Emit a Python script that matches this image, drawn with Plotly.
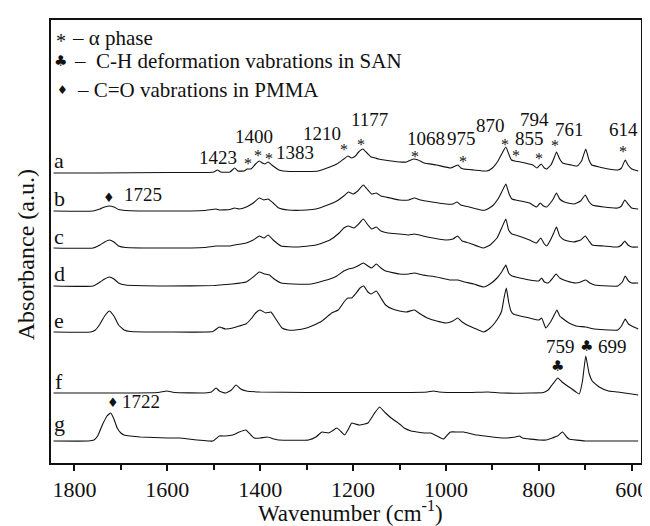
import plotly.graph_objects as go

# ---------------- data ----------------
labels = ["a", "b", "c", "d", "e", "f", "g"]

wn_a = [1845, 1750, 1600, 1520, 1500, 1492, 1485, 1465, 1455, 1448, 1435, 1428, 1420, 1410, 1402, 1395, 1390, 1383,
        1375, 1360, 1350, 1300, 1275, 1250, 1235, 1220, 1211, 1203, 1195, 1188, 1179, 1170, 1161, 1152, 1145, 1133,
        1100, 1085, 1070, 1060, 1047, 1020, 990, 980, 974, 968, 962, 940, 912, 900, 888, 880, 871, 864, 859, 852, 840,
        813, 804, 795, 788, 783, 774, 768, 762, 755, 749, 730, 717, 708, 699, 692, 686, 670, 650, 630, 622, 614, 608,
        600, 586]
ab_a = [0, 0, 0.5, 0.5, 1, 3, 1, 1, 5, 2, 2, 4, 4, 9, 12, 10, 9, 11,
        8, 3, 2, 1.5, 2, 6, 9, 14, 17, 15, 17, 21, 24, 20, 16, 15, 14, 13,
        11, 11, 14, 13, 10, 8, 5, 7, 8, 5, 4, 3, 2, 5, 12, 19, 26, 18, 13, 12, 11,
        8, 5, 9, 5, 4, 8, 14, 21, 14, 10, 8, 7, 12, 24, 13, 8, 6, 4, 3, 5, 13, 8,
        4, 2]

wn_b = [1845, 1760, 1745, 1735, 1725, 1715, 1705, 1690, 1600, 1520, 1495, 1488, 1465, 1455, 1445, 1430, 1415, 1402,
        1392, 1383, 1372, 1360, 1340, 1300, 1280, 1255, 1235, 1220, 1210, 1200, 1190, 1178, 1170, 1160, 1150, 1140,
        1120, 1100, 1080, 1068, 1055, 1030, 1000, 985, 976, 968, 950, 925, 915, 900, 888, 880, 871, 864, 858, 850,
        820, 805, 797, 790, 783, 775, 769, 762, 755, 745, 725, 710, 700, 693, 685, 660, 630, 622, 615, 608, 600, 586]
ab_b = [0, 0, 2, 4, 5, 4, 1.5, 0.5, 0, 0.5, 2, 1, 1.5, 3, 2, 4, 8, 13,
        11, 12, 8, 3, 1, 1, 2, 6, 10, 15, 19, 17, 20, 26, 22, 17, 18, 15,
        13, 11, 11, 13, 11, 9, 7, 7, 9, 6, 4, 1, 1, 5, 12, 19, 27, 17, 12, 11,
        8, 4, 8, 5, 4, 8, 12, 18, 12, 9, 7, 10, 16, 10, 6, 4, 3, 5, 11, 7, 3, 2]

wn_c = [1845, 1760, 1745, 1735, 1725, 1715, 1705, 1690, 1600, 1520, 1495, 1465, 1455, 1430, 1415, 1402, 1392, 1383,
        1372, 1355, 1320, 1280, 1250, 1230, 1220, 1210, 1198, 1188, 1178, 1168, 1160, 1150, 1140, 1125, 1100, 1080,
        1068, 1040, 1000, 985, 975, 965, 950, 920, 905, 890, 880, 871, 865, 858, 850, 820, 805, 796, 788, 783, 775,
        768, 762, 755, 745, 725, 710, 700, 692, 685, 660, 630, 622, 615, 608, 600, 586]
ab_c = [0, 0, 3, 6, 8, 6, 2, 0.5, 0, 0.5, 2, 2, 3, 5, 8, 12, 10, 13,
        8, 2, 1, 3, 8, 15, 20, 22, 20, 24, 29, 23, 19, 21, 17, 15, 14, 13,
        14, 11, 8, 9, 12, 7, 5, 0, 3, 10, 20, 29, 18, 14, 13, 8, 5, 10, 4, 2, 8,
        15, 21, 12, 8, 6, 8, 12, 7, 3, 2, 1, 3, 7, 3, 1, 1]

wn_d = [1845, 1760, 1745, 1735, 1725, 1715, 1705, 1690, 1600, 1500, 1488, 1460, 1430, 1415, 1402, 1390, 1380, 1370,
        1355, 1330, 1290, 1265, 1250, 1235, 1220, 1210, 1200, 1190, 1178, 1168, 1160, 1150, 1140, 1130, 1100, 1080,
        1068, 1050, 1020, 990, 975, 960, 940, 919, 905, 890, 880, 871, 865, 858, 850, 820, 800, 794, 788, 780, 770,
        763, 755, 740, 720, 710, 699, 690, 680, 650, 630, 620, 614, 607, 600, 586]
ab_d = [0, 0, 4, 7, 9, 7, 3, 1, 0, 0.5, 1, 2, 4, 9, 14, 12, 11, 7,
        3, 2, 2, 5, 7, 10, 15, 17, 18, 20, 23, 20, 18, 22, 18, 15, 12, 12,
        13, 11, 9, 6, 6, 4, 2, -1, 2, 8, 14, 21, 13, 10, 9, 6, 5, 8, 4, 3, 8,
        12, 8, 5, 3, 4, 6, 3, 1, 0, 0, 4, 10, 5, 3, 3]

wn_e = [1845, 1765, 1755, 1745, 1735, 1725, 1715, 1705, 1693, 1680, 1600, 1502, 1488, 1475, 1459, 1445, 1431, 1418,
        1410, 1400, 1388, 1377, 1365, 1353, 1340, 1324, 1300, 1289, 1267, 1246, 1232, 1218, 1211, 1203, 1195, 1185,
        1177, 1168, 1161, 1150, 1140, 1130, 1115, 1100, 1085, 1068, 1055, 1040, 1020, 1000, 985, 975, 965, 950, 940,
        919, 905, 895, 885, 880, 875, 870, 865, 860, 855, 840, 820, 800, 794, 788, 785, 775, 768, 761, 755, 750, 735,
        720, 699, 680, 650, 630, 622, 614, 607, 600, 586]
ab_e = [0, 0, 2, 8, 16, 21, 16, 7, 2, 0.5, 0, 0.5, 5, 3, 4, 6, 8, 14,
        19, 22, 19, 20, 12, 4, 2, 2, 4, 6, 11, 19, 22, 31, 34, 34, 38, 44,
        46, 40, 38, 41, 34, 27, 23, 21, 20, 22, 18, 14, 11, 9, 11, 14, 10, 6, 4,
        0, 4, 9, 16, 21, 34, 44, 30, 21, 18, 16, 14, 12, 14, 7, 4, 10, 16, 22, 16, 14, 9,
        6, 5, 3, 2, 2, 6, 13, 8, 6, 3]

wn_f = [1845, 1700, 1620, 1601, 1585, 1520, 1505, 1495, 1488, 1475, 1462, 1452, 1442, 1430, 1400, 1300, 1200, 1100,
        1040, 1027, 1015, 950, 909, 880, 820, 790, 780, 770, 759, 750, 735, 720, 713, 706, 699, 692, 685, 670, 650,
        630, 600, 586]
ab_f = [0, 0, 0.5, 2, 0.5, 0, 1, 5, 2, 0, 3, 8, 4, 2, 1, 0.5, 0.5, 0.5,
        1, 2, 1, 0.5, 1, 0, 0, 0.5, 3, 9, 15, 11, 6, 1, -1, 12, 37, 20, 12, 6, 2,
        1, -1, -2]

wn_g = [1845, 1770, 1758, 1750, 1740, 1730, 1722, 1715, 1708, 1700, 1693, 1680, 1658, 1600, 1574, 1502, 1488, 1475,
        1459, 1445, 1431, 1420, 1413, 1400, 1385, 1370, 1360, 1296, 1280, 1267, 1253, 1245, 1235, 1225, 1218, 1210,
        1203, 1195, 1186, 1175, 1168, 1155, 1143, 1130, 1118, 1100, 1090, 1075, 1062, 1045, 1033, 1015, 1005, 995,
        990, 975, 962, 934, 900, 877, 850, 842, 835, 800, 785, 760, 749, 740, 735, 700, 650, 586]
ab_g = [0, 0, 1, 5, 16, 25, 28, 22, 13, 8, 6, 5, 4, 3, 3, 0, 5, 5,
        6, 9, 11, 6, 3, 3, 4, 2, 1, 1, 4, 9, 8, 10, 13, 9, 6, 12,
        18, 17, 16, 17, 18, 27, 34, 28, 23, 17, 13, 10, 9, 8, 8, 4, 2, 7,
        9, 9, 9, 6, 4, 3, 4, 5, 3, 1, 1, 5, 9, 4, 2, 0, 0, 0]

wavenumbers = [wn_a, wn_b, wn_c, wn_d, wn_e, wn_f, wn_g]
absorbances = [ab_a, ab_b, ab_c, ab_d, ab_e, ab_f, ab_g]
offsets = [290, 252, 215, 177, 131, 70, 22]

x_ticks = [1800, 1600, 1400, 1200, 1000, 800, 600]
x_tick_text = ["1800", "1600", "1400", "1200", "1000", "800", "600"]

# peak labels of spectrum a: (text, wavenumber, y) and asterisk marks
a_peak_labels = [("1423", 1491, 306), ("1400", 1413, 327), ("1383", 1326, 311), ("1210", 1267, 330),
                 ("1177", 1164, 344), ("1068", 1044, 325), ("975", 966, 325), ("870", 905, 338),
                 ("855", 820, 325), ("794", 809, 344), ("761", 735, 334), ("614", 618, 334)]
a_asterisks = [(1427, 303), (1404, 311), (1381, 308), (1219, 317), (1182, 322), (1067, 310), (964, 305),
               (872, 322), (850, 311), (800, 308), (765, 321), (618, 315)]

SERIF = '"Liberation Serif", "Times New Roman", Times, serif'
SYM = '"DejaVu Sans", sans-serif'

fig = go.Figure()
for lab, wn, ab, off in zip(labels, wavenumbers, absorbances, offsets):
    fig.add_trace(go.Scatter(
        x=wn, y=[v + off for v in ab], mode="lines", name=lab,
        line=dict(color="#111111", width=1.1, shape="spline", smoothing=0.4),
        showlegend=False, hoverinfo="skip"))

ann = []


def add(x, y, text, size, xanchor="center", xref="x", yref="y", family=SERIF, **kw):
    ann.append(dict(x=x, y=y, xref=xref, yref=yref, text=text, showarrow=False,
                    xanchor=xanchor, yanchor="middle",
                    font=dict(family=family, size=size, color="#111111"), **kw))


# spectrum letters
letter_y = [303, 265, 227, 190, 143, 82, 40]
for lab, ly in zip(labels, letter_y):
    add(1833, ly, lab, 22)

for t, x, y in a_peak_labels:
    add(x, y, t, 19)
for x, y in a_asterisks:
    add(x, y - 3, "*", 16)

# C=O and C-H marks
add(1725, 266, "♦", 13, family=SYM)
add(1652, 269, "1725", 19)
add(1718, 61, "♦", 13, family=SYM)
add(1656, 62, "1722", 19)
add(754, 117, "759", 19)
add(760, 97, "♣", 15, family=SYM)
add(697, 117, "♣", 15, family=SYM)
add(642, 117, "699", 19)


# legend lines (paper coordinates)
def px(x):
    return (x - 43) / 597


def py(y):
    return (455 - y) / 443


add(px(53), py(33), "*", 20, xref="paper", yref="paper")
add(px(62), py(30), "– α phase", 21, xanchor="left", xref="paper", yref="paper")
add(px(53), py(53), "♣", 15, xref="paper", yref="paper", family=SYM)
add(px(64), py(53), "–  C-H deformation vabrations in SAN", 21, xanchor="left", xref="paper", yref="paper")
add(px(55), py(82), "♦", 12, xref="paper", yref="paper", family=SYM)
add(px(67), py(82), "– C=O vabrations in PMMA", 21, xanchor="left", xref="paper", yref="paper")

# axis titles
add(px(346), py(503), "Wavenumber (cm<sup>-1</sup>)", 23, xref="paper", yref="paper")
ann.append(dict(x=px(18), y=py(247), xref="paper", yref="paper", text="Absorbance (a.u.)",
                showarrow=False, textangle=-90, xanchor="center", yanchor="middle",
                font=dict(family=SERIF, size=24, color="#111111")))

fig.update_layout(
    width=650, height=526,
    margin=dict(l=43, r=10, t=12, b=71),
    paper_bgcolor="white", plot_bgcolor="white",
    font=dict(family=SERIF, color="#111111"),
    annotations=ann,
    xaxis=dict(range=[1850.5, 580], tickvals=x_ticks, ticktext=x_tick_text,
               ticks="outside", ticklen=6, tickwidth=1.5, tickcolor="#111111",
               minor=dict(dtick=100, tick0=0, ticks="outside", ticklen=5, tickwidth=1.5, tickcolor="#111111"),
               showline=True, linewidth=2, linecolor="#111111", mirror=True,
               showgrid=False, zeroline=False,
               tickfont=dict(family=SERIF, size=22, color="#111111")),
    yaxis=dict(range=[0, 443], showticklabels=False, ticks="",
               showline=True, linewidth=2, linecolor="#111111", mirror=True,
               showgrid=False, zeroline=False),
)

fig.write_html("out.html")
